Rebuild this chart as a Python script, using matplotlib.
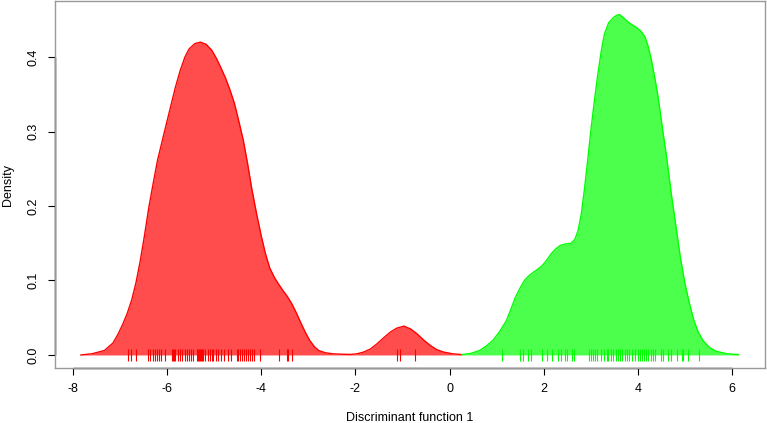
import matplotlib
matplotlib.use("Agg")
import matplotlib.pyplot as plt

plt.rcParams['font.family'] = ['Liberation Sans', 'DejaVu Sans']

# Density curve of group 1 (red)
red_x = [-7.83, -7.60, -7.33, -7.15, -7.04, -6.95, -6.85, -6.75, -6.66, -6.57,
         -6.48, -6.39, -6.29, -6.20, -6.10, -6.00, -5.91, -5.82, -5.72, -5.62,
         -5.53, -5.41, -5.29, -5.17, -5.05, -4.95, -4.86, -4.76, -4.67, -4.57,
         -4.48, -4.38, -4.29, -4.20, -4.10, -4.00, -3.91, -3.82, -3.72, -3.63,
         -3.54, -3.45, -3.35, -3.25, -3.15, -3.06, -2.97, -2.87, -2.78, -2.64,
         -2.49, -2.30, -2.11, -1.97, -1.83, -1.68, -1.54, -1.40, -1.26, -1.12,
         -0.97, -0.83, -0.69, -0.55, -0.41, -0.27, -0.12, 0.07, 0.26]
red_y = [0.0, 0.0015, 0.006, 0.016, 0.028, 0.040, 0.055, 0.074, 0.097, 0.126,
         0.160, 0.197, 0.232, 0.262, 0.288, 0.314, 0.337, 0.360, 0.382, 0.400,
         0.411, 0.418, 0.420, 0.417, 0.409, 0.398, 0.386, 0.372, 0.357, 0.338,
         0.315, 0.288, 0.257, 0.223, 0.190, 0.160, 0.136, 0.117, 0.104, 0.095,
         0.0866, 0.079, 0.0687, 0.056, 0.0419, 0.030, 0.0195, 0.011, 0.006, 0.003,
         0.0016, 0.001, 0.0007, 0.0015, 0.0038, 0.008, 0.015, 0.023, 0.0306, 0.036,
         0.0387, 0.035, 0.0284, 0.020, 0.0128, 0.007, 0.0038, 0.0015, 0.0005]

# Density curve of group 2 (green)
green_x = [0.26, 0.45, 0.64, 0.78, 0.92, 1.06, 1.21, 1.30, 1.40, 1.50,
           1.59, 1.68, 1.78, 1.87, 1.97, 2.06, 2.16, 2.25, 2.35, 2.46,
           2.58, 2.66, 2.73, 2.80, 2.87, 2.94, 3.01, 3.08, 3.15, 3.22,
           3.29, 3.38, 3.48, 3.55, 3.61, 3.69, 3.77, 3.86, 3.96, 4.06,
           4.15, 4.22, 4.29, 4.36, 4.43, 4.52, 4.62, 4.71, 4.81, 4.90,
           5.00, 5.10, 5.19, 5.28, 5.38, 5.52, 5.66, 5.90, 6.14]
green_y = [0.0005, 0.002, 0.006, 0.012, 0.0195, 0.031, 0.0463, 0.061, 0.0776, 0.090,
           0.100, 0.106, 0.111, 0.115, 0.120, 0.127, 0.136, 0.142, 0.147, 0.149,
           0.150, 0.155, 0.167, 0.190, 0.225, 0.265, 0.306, 0.343, 0.377, 0.407,
           0.431, 0.446, 0.453, 0.456, 0.457, 0.453, 0.448, 0.444, 0.440, 0.435,
           0.427, 0.414, 0.395, 0.372, 0.346, 0.305, 0.261, 0.216, 0.172, 0.132,
           0.0956, 0.068, 0.0463, 0.031, 0.0195, 0.010, 0.005, 0.0015, 0.0005]

# Rug (individual discriminant scores)
red_rug = [-6.83, -6.77, -6.66, -6.41, -6.37, -6.30, -6.26, -6.22, -6.17, -6.12,
           -6.05, -5.90, -5.88, -5.86, -5.84, -5.77, -5.73, -5.69, -5.62, -5.58,
           -5.54, -5.49, -5.45, -5.37, -5.35, -5.32, -5.30, -5.28, -5.26, -5.24,
           -5.20, -5.13, -5.09, -5.05, -5.03, -4.96, -4.92, -4.86, -4.79, -4.71,
           -4.64, -4.52, -4.50, -4.45, -4.41, -4.37, -4.33, -4.28, -4.24, -4.20,
           -4.16, -4.03, -3.62, -3.45, -3.43, -3.35, -1.12, -1.05, -0.74]
green_rug = [1.11, 1.50, 1.56, 1.67, 1.73, 1.96, 2.08, 2.17, 2.30, 2.36,
             2.45, 2.49, 2.60, 2.64, 2.96, 3.00, 3.04, 3.09, 3.13, 3.22,
             3.28, 3.34, 3.37, 3.43, 3.47, 3.53, 3.58, 3.62, 3.66, 3.73,
             3.77, 3.81, 3.88, 3.94, 4.00, 4.05, 4.09, 4.13, 4.17, 4.21,
             4.28, 4.32, 4.36, 4.49, 4.53, 4.64, 4.70, 4.83, 4.94, 4.96,
             5.06, 5.30]

x_ticks = [-8, -6, -4, -2, 0, 2, 4, 6]
y_ticks = [0.0, 0.1, 0.2, 0.3, 0.4]
x_label = "Discriminant function 1"
y_label = "Density"

fig = plt.figure(figsize=(7.67, 4.23), dpi=100)
ax = fig.add_axes([55/767, 1 - 368/423, 710/767, 367/423])

ax.fill_between(red_x, 0, red_y, color=(1, 0, 0, 0.7), linewidth=0)
ax.plot(red_x, red_y, color='red', lw=1.0)
ax.fill_between(green_x, 0, green_y, color=(0, 1, 0, 0.7), linewidth=0)
ax.plot(green_x, green_y, color='#00FF00', lw=1.0)

ax.vlines(red_rug, -0.0075, 0.008, color='red', lw=0.8)
ax.vlines(green_rug, -0.0075, 0.008, color='#00FF00', lw=0.8)

ax.set_xlim(-8.38, 6.70)
ax.set_ylim(-0.0175, 0.4752)

for s in ax.spines.values():
    s.set_color('#999999')
    s.set_linewidth(1.0)

# R-style axis lines spanning the ticks
ax.plot([x_ticks[0], x_ticks[-1]], [-0.0175, -0.0175], color='black', lw=1.0,
        clip_on=False, solid_capstyle='butt')
ax.plot([-8.38, -8.38], [y_ticks[0], y_ticks[-1]], color='black', lw=1.0,
        clip_on=False, solid_capstyle='butt')

ax.set_xticks(x_ticks)
ax.set_xticklabels([str(t) for t in x_ticks])
ax.set_yticks(y_ticks)
ax.set_yticklabels([f"{t:.1f}" for t in y_ticks], rotation=90, va='center')
ax.tick_params(axis='both', length=5, width=0.8, color='black', labelsize=9, pad=6)

ax.set_xlabel(x_label, fontsize=9, labelpad=12)
ax.set_ylabel(y_label, fontsize=9, labelpad=10)

fig.savefig("out.png", dpi=100)
